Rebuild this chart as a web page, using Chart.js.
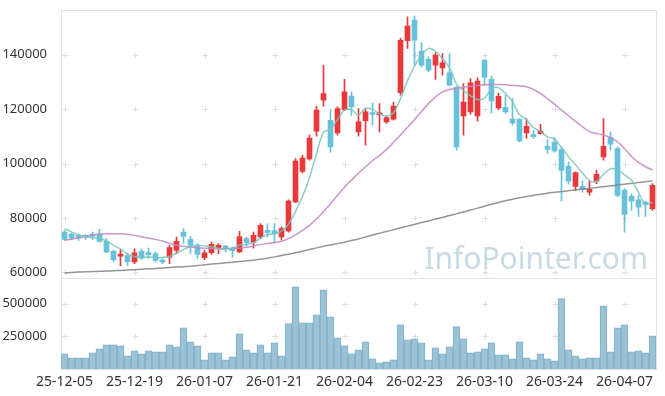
<!DOCTYPE html>
<html>
<head>
<meta charset="utf-8">
<script src="https://cdn.jsdelivr.net/npm/chart.js@4"></script>
<style>
body { margin: 0; background: #fff; }
#wrap { width: 665px; height: 396px; }
</style>
</head>
<body>
<div id="wrap"><canvas id="stockChart" width="665" height="396"></canvas></div>
<script>
const dates = [
    "25-12-05","25-12-08","25-12-09","25-12-10","25-12-11","25-12-12","25-12-15","25-12-16","25-12-17","25-12-18",
    "25-12-19","25-12-22","25-12-23","25-12-24","25-12-26","25-12-29","25-12-30","26-01-02","26-01-05","26-01-06",
    "26-01-07","26-01-08","26-01-09","26-01-12","26-01-13","26-01-14","26-01-15","26-01-16","26-01-19","26-01-20",
    "26-01-21","26-01-22","26-01-23","26-01-26","26-01-27","26-01-28","26-01-29","26-01-30","26-02-02","26-02-03",
    "26-02-04","26-02-05","26-02-06","26-02-09","26-02-10","26-02-11","26-02-12","26-02-13","26-02-19","26-02-20",
    "26-02-23","26-02-24","26-02-25","26-02-26","26-02-27","26-03-03","26-03-04","26-03-05","26-03-06","26-03-09",
    "26-03-10","26-03-11","26-03-12","26-03-13","26-03-16","26-03-17","26-03-18","26-03-19","26-03-20","26-03-23",
    "26-03-24","26-03-25","26-03-26","26-03-27","26-03-30","26-03-31","26-04-01","26-04-02","26-04-03","26-04-06",
    "26-04-07","26-04-08","26-04-09","26-04-10","26-04-13"
];

const opens = [
    74800,74100,73600,73300,73900,74000,71400,67700,66000,66200,
    63800,67700,67200,66900,64400,65600,68100,74800,72100,69600,
    65400,67200,69100,69100,68300,67500,72400,71100,73000,74900,
    75400,73000,75200,85900,97100,101700,111900,123300,115900,111200,
    119800,124800,111600,115700,118200,117900,115300,116300,126000,145100,
    152700,141300,138300,136100,135100,133300,128000,117500,119000,117500,
    138000,130900,120400,120600,116300,116300,111200,110100,111000,106300,
    107900,105100,99000,91600,91600,89500,93500,102400,109500,105500,
    90200,88000,86700,85700,83400
];
const highs = [
    75400,74450,74000,73900,74800,75800,72400,68200,68500,67200,
    68700,68700,68900,67500,65000,69900,73000,76100,73300,70600,
    68100,71100,70600,69900,69300,75100,73000,74800,77900,77900,
    77900,76700,86700,101800,103000,110400,121000,136100,119800,120800,
    130900,126300,120200,120200,122300,122000,117400,122600,146000,153900,
    154200,144300,139200,140700,140400,140400,128400,129400,131200,131600,
    138200,132100,125900,125100,123900,116500,116500,112200,114400,108800,
    109500,106100,100600,96900,93500,93600,97500,116500,111600,106100,
    90800,88900,88300,86200,92600
];
const lows = [
    71900,72100,71700,72100,72100,71100,67200,64000,62500,62600,
    63200,64800,65000,63800,63200,63200,66900,70600,66900,65000,
    64700,66600,66900,67500,65600,67300,69700,68900,72400,73000,
    70700,71800,74800,85600,96500,101200,110000,121100,104200,110400,
    119400,117700,110000,106700,114100,111600,114700,115900,125100,142300,
    136100,135500,133700,130900,132500,128500,104900,110400,118100,115600,
    128800,118600,119800,118400,114100,107900,109200,109200,110800,103700,
    104200,86200,92400,90200,89500,88300,92600,101200,105000,87800,
    74800,82800,80600,80600,82800
];
const closes = [
    72100,72600,72600,72900,73300,71400,67500,64700,66200,63800,
    67200,65300,66500,64400,63800,69100,71400,73200,69900,66600,
    67200,70300,69900,68900,68000,73200,70900,73600,77300,74700,
    74200,76100,86200,100900,102000,109300,119600,125700,106100,120200,
    126300,120800,115300,119000,118000,118100,116900,121100,145300,150500,
    145300,136100,134300,139800,137000,128800,106100,122600,129600,130300,
    131600,123000,124700,119000,114900,108300,113700,109900,111900,105200,
    104600,97500,93500,96700,90400,90500,96000,106300,107100,88300,
    81300,86200,84000,85000,92000
];

// moving averages as drawn on the original
const ma5 = [
    76100,74900,73700,73300,72700,72560,71540,69960,68600,66700,
    65860,65420,65780,65440,65440,65820,67040,68380,69480,70040,
    69660,69440,68780,68580,68860,70060,70180,70920,72600,73940,
    74140,75180,77700,82420,87880,94900,103600,111500,112540,116180,
    119580,119820,117740,120320,119880,118240,117460,118620,123880,130380,
    135820,139660,142300,141200,138500,135200,129200,126860,124820,123480,
    124040,127420,127840,125720,122640,117980,116120,113160,111740,109800,
    109060,105820,102540,99500,96540,93720,93420,95980,98060,97640,
    95800,93840,89380,84960,85700
];
const ma20 = [
    71800,72200,72700,73200,73700,74100,74200,74200,74200,74000,
    73600,73100,72600,72100,71500,70600,70000,69600,69300,69000,
    68900,68800,68700,68700,68800,68900,69200,69700,70200,70600,
    71000,71400,72400,73800,75500,77300,79700,82300,85200,88300,
    91300,93900,96400,98800,101000,103000,105100,107800,110500,113300,
    116100,119100,122000,124500,126300,127200,127600,128000,128400,128700,
    128900,129000,129000,128900,128700,128500,128200,127200,125800,123800,
    121800,119600,117500,115500,113500,111700,111000,110500,109500,108000,
    105500,102600,100400,98800,97600
];
const ma60 = [
    59800,59950,60100,60200,60300,60400,60500,60600,60700,60850,
    61000,61150,61300,61450,61600,61800,61950,62100,62300,62500,
    62800,63050,63300,63500,63750,64000,64250,64500,64800,65200,
    65700,66200,66700,67200,67800,68400,69000,69600,70100,70600,
    71100,71700,72300,73000,73700,74400,75000,75700,76300,77000,
    77600,78300,78900,79600,80200,80900,81500,82200,82900,83600,
    84300,85000,85700,86300,86900,87400,87900,88300,88700,89100,
    89400,89700,90000,90300,90600,90900,91200,91500,91800,92100,
    92400,92700,93000,93300,93600
];

const volumes = [
    116000,85600,85600,85600,124000,154000,185000,185000,177000,101000,
    139000,116000,139000,131000,131000,185000,170000,315000,208000,177000,
    70000,124000,124000,70000,93000,269000,147000,124000,185000,124000,
    200000,101000,346000,628000,353000,353000,414000,605000,399000,238000,
    177000,116000,147000,208000,78000,47000,55000,70000,338000,223000,
    231000,200000,70000,162000,116000,170000,323000,231000,124000,131000,
    154000,200000,108000,108000,78000,208000,85600,70000,116000,78000,
    63000,537000,147000,101000,78000,85600,85600,483000,131000,315000,
    338000,131000,139000,124000,254000
];

const priceTicks = [60000, 80000, 100000, 120000, 140000];
const volumeTicks = [250000, 500000];

const upColor = "#e8393a";
const downColor = "#68c1da";
const candleColors = closes.map((c, i) => c >= opens[i] ? upColor : downColor);
const yFont = { family: "'Noto Sans', sans-serif", size: 13 };
const xFont = { family: "'Noto Sans', sans-serif", size: 14 };

// little "+" marks where grid lines would cross, plus the frame and watermark
const crossGrid = {
    id: "crossGrid",
    beforeDatasetsDraw(chart) {
        const ctx = chart.ctx;
        const x = chart.scales.x, y = chart.scales.y, v = chart.scales.v;
        ctx.save();

        ctx.font = "30px 'Noto Sans', sans-serif";
        ctx.fillStyle = "rgba(170, 198, 214, 0.65)";
        ctx.textAlign = "right";
        ctx.textBaseline = "alphabetic";
        ctx.fillText("InfoPointer.com", x.right - 8, y.bottom - 9);

        ctx.strokeStyle = "#dedede";
        ctx.lineWidth = 1;
        const xs = [];
        dates.forEach((d, i) => { if (i % 10 === 0) xs.push(Math.round(x.getPixelForValue(i)) + 0.5); });
        const ys = priceTicks.map(t => Math.round(y.getPixelForValue(t)) + 0.5)
            .concat(volumeTicks.map(t => Math.round(v.getPixelForValue(t)) + 0.5));
        ctx.beginPath();
        xs.forEach(px => {
            ys.forEach(py => {
                ctx.moveTo(px - 3, py); ctx.lineTo(px + 3, py);
                ctx.moveTo(px, py - 3); ctx.lineTo(px, py + 3);
            });
        });
        ctx.stroke();

        ctx.strokeStyle = "#e2e2e2";
        const l = Math.round(x.left) + 0.5, r = Math.round(x.right) + 0.5;
        const t = Math.round(y.top) + 0.5, m = Math.round(y.bottom) + 0.5, b = Math.round(v.bottom) + 0.5;
        ctx.beginPath();
        ctx.moveTo(l, t); ctx.lineTo(r, t);
        ctx.moveTo(l, m); ctx.lineTo(r, m);
        ctx.moveTo(l, b); ctx.lineTo(r, b);
        ctx.moveTo(l, t); ctx.lineTo(l, b);
        ctx.moveTo(r, t); ctx.lineTo(r, b);
        ctx.stroke();
        ctx.restore();
    }
};

function fixLeftAxis(s) {
    s.width = 61;
    s.paddingTop = 0;
    s.paddingBottom = 0;
}

new Chart(document.getElementById("stockChart"), {
    type: "bar",
    data: {
        labels: dates,
        datasets: [
            {
                type: "line", label: "MA5", data: ma5, yAxisID: "y",
                borderColor: "rgba(120, 196, 186, 0.85)", borderWidth: 1.5,
                pointRadius: 0, tension: 0.3
            },
            {
                type: "line", label: "MA20", data: ma20, yAxisID: "y",
                borderColor: "rgba(196, 130, 196, 0.85)", borderWidth: 1.5,
                pointRadius: 0, tension: 0.3
            },
            {
                type: "line", label: "MA60", data: ma60, yAxisID: "y",
                borderColor: "rgba(130, 130, 130, 0.85)", borderWidth: 1.5,
                pointRadius: 0, tension: 0.3
            },
            {
                label: "body", yAxisID: "y", grouped: false,
                data: opens.map((o, i) => [o, closes[i]]),
                backgroundColor: candleColors, barThickness: 5, minBarLength: 2
            },
            {
                label: "wick", yAxisID: "y", grouped: false,
                data: lows.map((lo, i) => [lo, highs[i]]),
                backgroundColor: candleColors, barThickness: 1
            },
            {
                label: "volume", yAxisID: "v", grouped: false,
                data: volumes,
                backgroundColor: "#9bc2d5", borderColor: "#7eafcb", borderWidth: 1,
                barPercentage: 1, categoryPercentage: 1
            }
        ]
    },
    options: {
        responsive: false,
        animation: false,
        layout: { padding: { top: 10, right: 9, left: 0, bottom: 0 } },
        plugins: { legend: { display: false }, tooltip: { enabled: false } },
        scales: {
            x: {
                offset: true,
                grid: { display: false },
                border: { display: false },
                ticks: {
                    autoSkip: false, maxRotation: 0, padding: -3, color: "#333", font: xFont,
                    callback: (val, i) => i % 10 === 0 ? dates[i] : ""
                },
                afterFit: s => { s.height = 27; s.paddingLeft = 0; s.paddingRight = 0; }
            },
            v: {
                position: "left", stack: "main", stackWeight: 90.5,
                min: 0, max: 692000,
                grid: { display: false },
                border: { display: false },
                afterBuildTicks: s => { s.ticks = volumeTicks.map(t => ({ value: t })); },
                ticks: { padding: 6, color: "#333", font: yFont, callback: val => String(val) },
                afterFit: fixLeftAxis
            },
            y: {
                position: "left", stack: "main", stackWeight: 268,
                min: 57800, max: 156400,
                grid: { display: false },
                border: { display: false },
                afterBuildTicks: s => { s.ticks = priceTicks.map(t => ({ value: t })); },
                ticks: { padding: 6, color: "#333", font: yFont, callback: val => String(val) },
                afterFit: fixLeftAxis
            }
        }
    },
    plugins: [crossGrid]
});
</script>
</body>
</html>
